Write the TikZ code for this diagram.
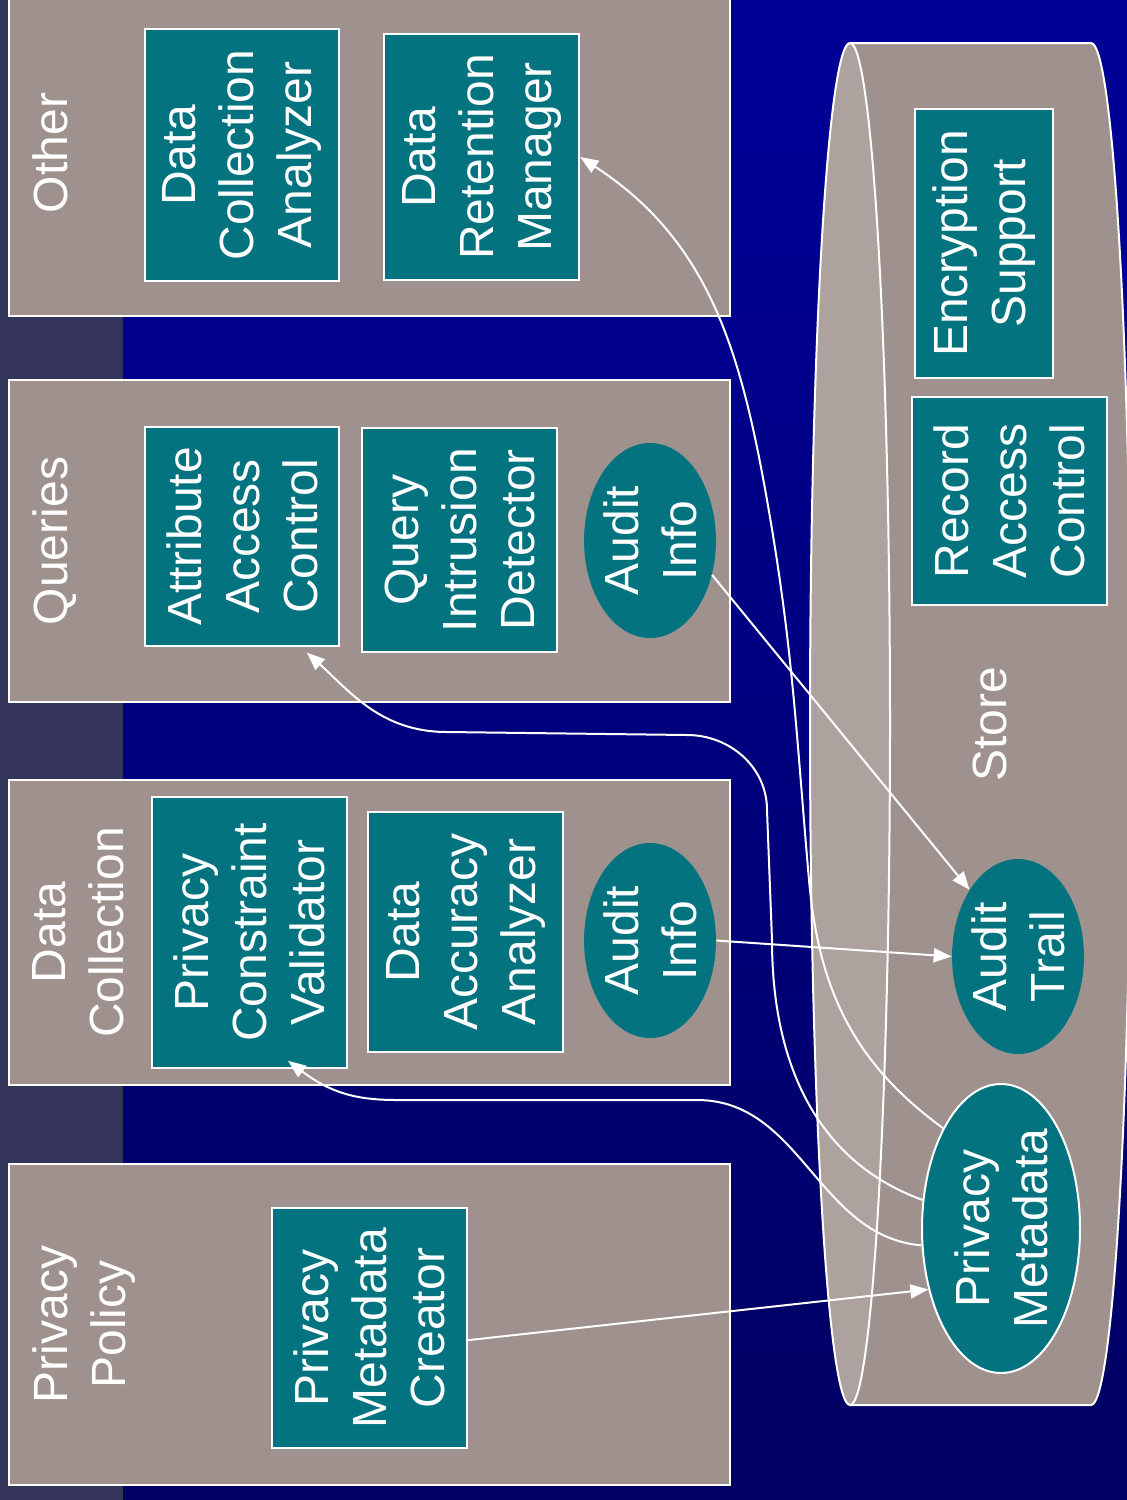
\documentclass[tikz,border=0pt]{standalone}
\usepackage{fontspec}
\setmainfont{Liberation Sans}
\usetikzlibrary{shapes.geometric,arrows.meta}

\definecolor{slideblue}{RGB}{0,0,153}
\definecolor{slidenavy}{RGB}{0,0,98}
\definecolor{stripgray}{RGB}{52,52,90}
\definecolor{panelgray}{RGB}{159,146,142}
\definecolor{capgray}{RGB}{174,162,158}
\definecolor{unitteal}{RGB}{2,115,127}

\newcommand\slidefont{\fontsize{24}{29}\selectfont}

\tikzset{
  panel/.style={draw=white,line width=1pt,fill=panelgray,inner sep=0pt},
  paneltitle/.style={text=white,align=center,anchor=north,inner sep=0pt,font=\slidefont},
  unit/.style={draw=white,line width=1.2pt,fill=unitteal,text=white,align=center,inner sep=0pt,font=\slidefont},
  record/.style={ellipse,fill=unitteal,text=white,align=center,inner sep=0pt,font=\slidefont},
  flow/.style={draw=white,line width=1pt,-{Triangle[length=9pt,width=7pt]}},
}

\begin{document}
\begin{tikzpicture}[x=0.5pt,y=0.5pt]
  \useasboundingbox (0,0) rectangle (1127,-1500);
  \fill[top color=slideblue,bottom color=slidenavy] (0,0) rectangle (1127,-1500);
  \fill[stripgray] (0,0) rectangle (123,-1500);
  \begin{scope}[shift={(1127,-1500)},rotate=90,transform shape]
    % panels
    \node[panel,minimum width=163pt,minimum height=360.5pt] (other) at (1347,757.5) {};
    \node[panel,minimum width=161pt,minimum height=360.5pt] (queries) at (959,757.5) {};
    \node[panel,minimum width=152.5pt,minimum height=360.5pt] (collect) at (567.5,757.5) {};
    \node[panel,minimum width=160.5pt,minimum height=360.5pt] (policy) at (175.5,757.5) {};
    \node[paneltitle] (othertitle) at (1347,1095) {Other};
    \node[paneltitle] (queriestitle) at (959,1095) {Queries};
    \node[paneltitle] (collecttitle) at (567.5,1095) {Data\\Collection};
    \node[paneltitle] (policytitle) at (175.5,1095) {Privacy\\Policy};
    % store
    \fill[panelgray] (95,277) -- (95,36) arc[start angle=180,end angle=360,x radius=681,y radius=40] -- (1457,277) -- cycle;
    \draw[white,line width=1pt] (95,277) -- (95,36) arc[start angle=180,end angle=360,x radius=681,y radius=40] -- (1457,277);
    \filldraw[fill=capgray,draw=white,line width=1pt] (776,277) ellipse[x radius=681,y radius=40];
    \node[text=white,font=\slidefont] (store) at (776,137) {Store};
    % units
    \node[unit,minimum width=126pt,minimum height=97pt] (dca) at (1345,885) {Data\\Collection\\Analyzer};
    \node[unit,minimum width=123pt,minimum height=97.5pt] (drm) at (1343,645.5) {Data\\Retention\\Manager};
    \node[unit,minimum width=109.5pt,minimum height=97pt] (aac) at (963.5,885) {Attribute\\Access\\Control};
    \node[unit,minimum width=112pt,minimum height=97.5pt] (qid) at (960,667.5) {Query\\Intrusion\\Detector};
    \node[record,minimum width=97.5pt,minimum height=65pt] (aiq) at (959.5,477) {Audit\\Info};
    \node[unit,minimum width=135.5pt,minimum height=97.5pt] (pcv) at (567.5,877.5) {Privacy\\Constraint\\Validator};
    \node[unit,minimum width=120pt,minimum height=97.5pt] (daa) at (568,661.5) {Data\\Accuracy\\Analyzer};
    \node[record,minimum width=97.5pt,minimum height=65pt] (aidc) at (559.5,477) {Audit\\Info};
    \node[unit,minimum width=120pt,minimum height=97.5pt] (pmc) at (172,757.5) {Privacy\\Metadata\\Creator};
    \node[unit,minimum width=134.5pt,minimum height=69pt] (enc) at (1256.5,143) {Encryption\\Support};
    \node[unit,minimum width=104pt,minimum height=97.5pt] (rac) at (999,117.5) {Record\\Access\\Control};
    \node[record,minimum width=97.5pt,minimum height=65pt] (trail) at (543.5,109) {Audit\\Trail};
    \node[record,draw=white,line width=1pt,minimum width=144.5pt,minimum height=79pt] (pm) at (271.5,126) {Privacy\\Metadata};
    % connectors
    \draw[flow] (pmc.263) -- (pm.130);
    \draw[flow] (aidc.south) -- (trail.north);
    \draw[flow] (aiq.241) -- (trail.36);
    \draw[flow,shorten >=-7pt] (pm.102) to[out=85,in=270] (400,430) -- (400,730) to[out=90,in=233] (pcv.200);
    \draw[flow,shorten >=4pt] (pm.70) to[out=70,in=180] (560,355) -- (690,360) to[out=0,in=270] (765,440) -- (768,680) to[out=90,in=228] (aac.208);
    \draw[flow] (pm.30) to[out=54,in=185] (620,318) to[out=5,in=190] (1000,360) to[out=10,in=237] (drm.south);
  \end{scope}
\end{tikzpicture}
\end{document}
